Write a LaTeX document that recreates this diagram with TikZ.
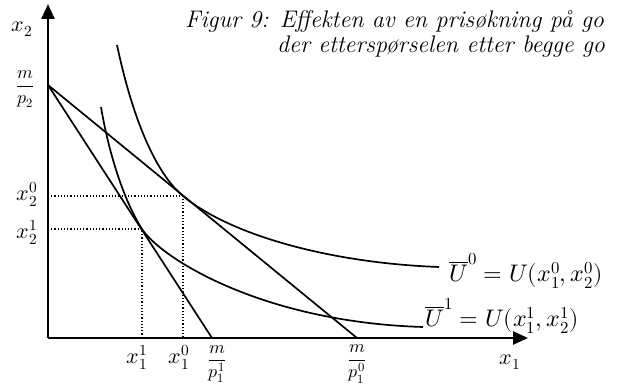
\documentclass[tikz,border=0pt]{standalone}
\usepackage{amsmath}
\usepackage{unicode-math}
\setmathfont{Latin Modern Math}
\usetikzlibrary{arrows.meta}
\begin{document}
\begin{tikzpicture}[x=1pt,y=-1pt,
  axis/.style={line width=2.6pt,-{Triangle[length=15pt,width=13pt]}},
  curve/.style={line width=1.7pt},
  guide/.style={line width=1.2pt,dotted},
  lbl/.style={inner sep=0pt,font=\fontsize{22}{26}\selectfont},
  ulbl/.style={inner sep=0pt,anchor=west,font=\fontsize{24}{28}\selectfont},
  frc/.style={inner sep=0pt,font=\fontsize{18}{22}\selectfont},
  ttl/.style={inner sep=0pt,anchor=base west,font=\fontsize{24}{28}\selectfont\itshape}]
\useasboundingbox (0,0) rectangle (621,387);
% axes
\coordinate (O) at (48,338);
\coordinate (ytop) at (48,4);
\coordinate (xend) at (528,338);
\draw[axis] (O) -- (ytop);
\draw[axis] (O) -- (xend);
% key points
\coordinate (A) at (48,85);
\coordinate (B0) at (357,338);
\coordinate (B1) at (212,338);
\coordinate (E0) at (183,196);
\coordinate (E1) at (142,229);
\coordinate (Y0) at (48,196);
\coordinate (Y1) at (48,229);
\coordinate (X0) at (183,338);
\coordinate (X1) at (142,338);
% dotted guides
\draw[guide] (Y0) -- (E0) -- (X0);
\draw[guide] (Y1) -- (E1) -- (X1);
% budget lines
\draw[curve] (A) -- (B0);
\draw[curve] (A) -- (B1);
% indifference curves
\coordinate (U0s) at (117,45);
\coordinate (U0e) at (439,267);
\coordinate (U1s) at (101,107);
\coordinate (U1e) at (423,327);
\draw[curve] (U0s) .. controls (135,130) and (160,177) .. (E0)
  .. controls (230,235) and (330,263) .. (U0e);
\draw[curve] (U1s) .. controls (110,160) and (126,204) .. (E1)
  .. controls (160,257) and (260,322) .. (U1e);
% labels
\node[lbl] (lx2) at (22,29) {$x_2$};
\node[frc] (lmp2) at (25,89) {$\dfrac{m}{p_2}$};
\node[lbl] (lx20) at (27,194) {$x_2^0$};
\node[lbl] (lx21) at (27,232) {$x_2^1$};
\node[lbl] (lx11) at (137,357) {$x_1^1$};
\node[lbl] (lx10) at (179,357) {$x_1^0$};
\node[frc] (lmp11) at (217,364) {$\dfrac{m}{p_1^1}$};
\node[frc] (lmp10) at (357,364) {$\dfrac{m}{p_1^0}$};
\node[lbl] (lx1) at (510,362) {$x_1$};
\node[ulbl] (lU0) at (449,271) {$\overline{U}^0 = U(x_1^0,x_2^0)$};
\node[ulbl] (lU1) at (425,316) {$\overline{U}^1 = U(x_1^1,x_2^1)$};
% title
\node[ttl] (t1) at (185,28) {Figur 9: Effekten av en prisøkning på go};
\node[ttl] (t2) at (277,53) {der etterspørselen etter begge go};
\end{tikzpicture}
\end{document}
